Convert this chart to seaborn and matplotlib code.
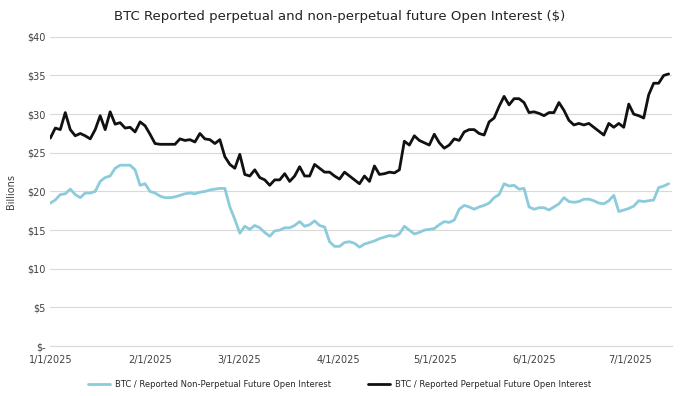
import pandas as pd
import seaborn as sns
import matplotlib.pyplot as plt
import matplotlib.dates as mdates
from matplotlib.ticker import FuncFormatter

# open interest in $ billions, every 1.5 days
perpetual = [
    26.9, 28.2, 28.0, 30.2, 28.0, 27.2, 27.5, 27.2, 26.8, 28.0,
    29.8, 28.0, 30.3, 28.7, 28.9, 28.2, 28.3, 27.7, 29.0, 28.5,
    27.4, 26.2, 26.1, 26.1, 26.1, 26.1, 26.8, 26.6, 26.7, 26.4,
    27.5, 26.8, 26.7, 26.2, 26.7, 24.5, 23.5, 23.0, 24.8, 22.2,
    22.0, 22.8, 21.8, 21.5, 20.8, 21.5, 21.5, 22.3, 21.3, 22.0,
    23.2, 22.0, 22.0, 23.5, 23.0, 22.5, 22.5, 22.0, 21.6, 22.5,
    22.0, 21.5, 21.0, 22.0, 21.3, 23.3, 22.2, 22.3, 22.5, 22.4,
    22.8, 26.5, 26.0, 27.2, 26.6, 26.3, 26.0, 27.4, 26.3, 25.6,
    26.0, 26.8, 26.6, 27.7, 28.0, 28.0, 27.5, 27.3, 29.0, 29.5,
    31.0, 32.3, 31.2, 32.0, 32.0, 31.5, 30.2, 30.3, 30.1, 29.8,
    30.2, 30.2, 31.5, 30.5, 29.2, 28.6, 28.8, 28.6, 28.8, 28.3,
    27.8, 27.3, 28.8, 28.3, 28.8, 28.3, 31.3, 30.0, 29.8, 29.5,
    32.5, 34.0, 34.0, 35.0, 35.2,
]
non_perpetual = [
    18.5, 18.9, 19.6, 19.7, 20.3, 19.6, 19.2, 19.8, 19.8, 20.0,
    21.3, 21.8, 22.0, 23.0, 23.4, 23.4, 23.4, 22.8, 20.8, 21.0,
    20.0, 19.8, 19.4, 19.2, 19.2, 19.3, 19.5, 19.7, 19.8, 19.7,
    19.9, 20.0, 20.2, 20.3, 20.4, 20.4, 18.0, 16.4, 14.6, 15.5,
    15.1, 15.6, 15.3, 14.7, 14.2, 14.9, 15.0, 15.3, 15.3, 15.6,
    16.1, 15.5, 15.7, 16.2, 15.6, 15.4, 13.5, 12.9, 12.9, 13.4,
    13.5, 13.3, 12.8, 13.2, 13.4, 13.6, 13.9, 14.1, 14.3, 14.2,
    14.5, 15.5, 15.0, 14.5, 14.7, 15.0, 15.1, 15.2, 15.7, 16.1,
    16.0, 16.3, 17.7, 18.2, 18.0, 17.7, 18.0, 18.2, 18.5, 19.2,
    19.6, 21.0, 20.7, 20.8, 20.3, 20.4, 18.0, 17.7, 17.9, 17.9,
    17.6, 18.0, 18.4, 19.2, 18.7, 18.6, 18.7, 19.0, 19.0, 18.8,
    18.5, 18.4, 18.8, 19.5, 17.4, 17.6, 17.8, 18.1, 18.8, 18.7,
    18.8, 18.9, 20.5, 20.7, 21.0,
]
label_np = 'BTC / Reported Non-Perpetual Future Open Interest'
label_p = 'BTC / Reported Perpetual Future Open Interest'
tick_dates = ['2025-01-01', '2025-02-01', '2025-03-01', '2025-04-01',
              '2025-05-01', '2025-06-01', '2025-07-01']

dates = pd.date_range('2025-01-01', '2025-07-13', periods=len(perpetual))
df = pd.DataFrame({'date': dates, label_np: non_perpetual, label_p: perpetual})
long = df.melt(id_vars='date', var_name='series', value_name='oi')

sns.set_style('white')
plt.rcParams['font.family'] = ['DejaVu Sans']

fig = plt.figure(figsize=(6.8, 3.96), dpi=100)
ax = fig.add_axes([0.074, 0.126, 0.914, 0.781])

sns.lineplot(data=long, x='date', y='oi', hue='series', ax=ax,
             palette={label_np: '#8ccbdb', label_p: '#111111'},
             linewidth=2.0)

ax.set_ylim(0, 40)
ax.set_yticks(range(0, 41, 5))
ax.yaxis.set_major_formatter(FuncFormatter(lambda v, p: '$-' if v == 0 else f'${int(v)}'))
ax.set_xlim(pd.Timestamp('2025-01-01'), pd.Timestamp('2025-07-14'))
ax.set_xticks(pd.to_datetime(tick_dates))
ax.xaxis.set_major_formatter(mdates.DateFormatter('%-m/%-d/%Y'))

ax.grid(axis='y', color='#d9d9d9', lw=0.8)
for s in ['top', 'right', 'left']:
    ax.spines[s].set_visible(False)
ax.spines['bottom'].set_color('#d9d9d9')
ax.tick_params(axis='x', length=3, color='#d9d9d9', labelsize=7, colors='#404040')
ax.tick_params(axis='y', length=0, labelsize=7, colors='#404040')

ax.set_xlabel('')
ax.set_ylabel('Billions', fontsize=7, color='#404040', labelpad=8)
fig.text(0.5, 0.958, 'BTC Reported perpetual and non-perpetual future Open Interest ($)',
         ha='center', va='center', fontsize=9.5, color='#222222')

ax.legend(loc='upper center', bbox_to_anchor=(0.465, -0.085), ncol=2, frameon=False,
          fontsize=6, handlelength=2.6, handletextpad=0.6, columnspacing=4.5, title=None)

fig.savefig('out.png', dpi=100)
